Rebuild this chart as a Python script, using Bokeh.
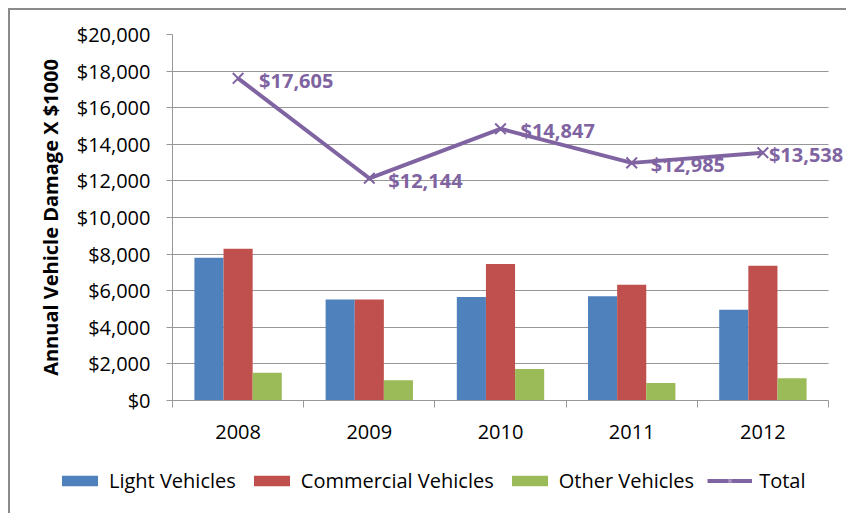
import numpy as np
from bokeh.plotting import figure
from bokeh.layouts import column
from bokeh.models import (ColumnDataSource, Range1d, FixedTicker, NumeralTickFormatter,
                          Legend, LegendItem, LabelSet, BoxAnnotation)
from bokeh.core.properties import value
from bokeh.transform import dodge
from bokeh.embed import file_html
from bokeh.resources import INLINE

# ---- data ----
years = ["2008", "2009", "2010", "2011", "2012"]
light = [7800, 5520, 5660, 5700, 4960]
commercial = [8290, 5520, 7460, 6330, 7360]
other = [1515, 1104, 1727, 955, 1218]
total = [17605, 12144, 14847, 12985, 13538]
y_ticks = [0, 2000, 4000, 6000, 8000, 10000, 12000, 14000, 16000, 18000, 20000]
series_names = ["Light Vehicles", "Commercial Vehicles", "Other Vehicles", "Total"]

# label offsets (screen px), not data
label_dx = [21, 19, 20, 19, 6]

FONT = "Open Sans"
BLUE, RED, GREEN, PURPLE = "#4F81BD", "#C0504D", "#9BBB59", "#8064A2"
GRID = "#979797"
BORDER = "#8a8a8a"

W, H_MAIN, H_LEG = 846, 455, 58
FRAME_L, FRAME_R = 172, 828   # plot area edges (px)

n = len(years)
centers = np.arange(n) + 0.5
src = ColumnDataSource(dict(x=centers, light=light, commercial=commercial, other=other,
                            total=total, lbl=[f"${v:,}" for v in total], dx=label_dx))

# frame runs to the right edge so the last data label is not clipped;
# the range is stretched so the categories still end at FRAME_R
x_end = n * (W - FRAME_L) / (FRAME_R - FRAME_L)

# ---------- main chart ----------
p = figure(width=W, height=H_MAIN, output_backend="svg", toolbar_location=None,
           x_range=Range1d(0, x_end), y_range=Range1d(0, 20000),
           min_border_left=FRAME_L, min_border_right=0, min_border_top=34, min_border_bottom=55)
p.frame_align = False
p.border_fill_color = None
p.background_fill_color = "white"
p.outline_line_color = None
p.styles = {"box-shadow": f"inset 8px 8px 0 0 #ffffff, inset 10px 10px 0 0 {BORDER}"}

bw = 0.222
def bars(fig):
    a = fig.vbar(x=dodge("x", -bw, range=fig.x_range), top="light", width=bw, source=src,
                 fill_color=BLUE, line_color=None)
    b = fig.vbar(x="x", top="commercial", width=bw, source=src, fill_color=RED, line_color=None)
    c = fig.vbar(x=dodge("x", bw, range=fig.x_range), top="other", width=bw, source=src,
                 fill_color=GREEN, line_color=None)
    return a, b, c

bars(p)
p.line(x="x", y="total", source=src, line_color=PURPLE, line_width=4)
p.scatter(x="x", y="total", source=src, marker="x", size=15, line_color=PURPLE, line_width=2)

# blank out grid lines beyond the last category
p.add_layout(BoxAnnotation(left=n, fill_color="white", fill_alpha=1, line_color=None,
                           level="underlay"))

labels = LabelSet(x="x", y="total", text="lbl", source=src, x_offset="dx", y_offset=-2,
                  text_baseline="middle", text_align="left", text_color=PURPLE,
                  text_font=value(FONT), text_font_size="20px", text_font_style="bold")
p.add_layout(labels)

xa = p.xaxis[0]
xa.bounds = (0, n)
xa.ticker = FixedTicker(ticks=list(centers), minor_ticks=list(range(n + 1)))
xa.major_label_overrides = {float(c): y for c, y in zip(centers, years)}
xa.major_tick_line_color = None
xa.major_tick_out = 0
xa.major_tick_in = 0
xa.minor_tick_out = 7
xa.minor_tick_in = 0
xa.minor_tick_line_color = GRID
xa.axis_line_color = GRID
xa.major_label_standoff = 17
xa.major_label_text_font = FONT
xa.major_label_text_font_size = "20px"
xa.major_label_text_color = "#000000"

ya = p.yaxis[0]
ya.ticker = FixedTicker(ticks=y_ticks)
ya.formatter = NumeralTickFormatter(format="$0,0")
ya.axis_line_color = GRID
ya.major_tick_line_color = GRID
ya.major_tick_out = 6
ya.major_tick_in = 0
ya.minor_tick_line_color = None
ya.major_label_standoff = 16
ya.major_label_text_font = FONT
ya.major_label_text_font_size = "20px"
ya.major_label_text_color = "#000000"
ya.axis_label = "Annual Vehicle Damage X $1000"
ya.axis_label_text_font = FONT
ya.axis_label_text_font_size = "20px"
ya.axis_label_text_font_style = "bold"
ya.axis_label_text_color = "#000000"
ya.axis_label_standoff = 10

p.xgrid.grid_line_color = None
p.ygrid.grid_line_color = GRID
p.ygrid.ticker = FixedTicker(ticks=y_ticks)

# ---------- legend strip (series drawn hidden, only their legend swatches show) ----------
q = figure(width=W, height=H_LEG, output_backend="svg", toolbar_location=None,
           x_axis_location=None, y_axis_location=None, min_border=0,
           x_range=Range1d(0, 1), y_range=Range1d(0, 1))
q.frame_align = False
q.border_fill_color = None
q.background_fill_color = None
q.outline_line_color = None
q.grid.grid_line_color = None
q.styles = {"box-shadow": f"inset 8px 0 0 0 #ffffff, inset 10px 0 0 0 {BORDER}"}

l1, l2, l3 = bars(q)
l4 = q.line(x="x", y="total", source=src, line_color=PURPLE, line_width=4)
l5 = q.scatter(x="x", y="total", source=src, marker="x", size=14, line_color="#a996c6",
               line_width=1.5)
for r in (l1, l2, l3, l4, l5):
    r.visible = False

legend = Legend(items=[LegendItem(label=series_names[0], renderers=[l1]),
                       LegendItem(label=series_names[1], renderers=[l2]),
                       LegendItem(label=series_names[2], renderers=[l3]),
                       LegendItem(label=series_names[3], renderers=[l4, l5])],
                orientation="horizontal", location=(57, 19),
                glyph_width=45, glyph_height=13, label_standoff=7, spacing=13,
                padding=0, margin=0, border_line_color=None, background_fill_alpha=0,
                inactive_fill_alpha=0, click_policy="none",
                label_text_font=FONT, label_text_font_size="20px", label_text_color="#000000")
q.add_layout(legend)

layout = column(p, q, spacing=0)
open("out.html", "w").write(file_html(layout, INLINE))
